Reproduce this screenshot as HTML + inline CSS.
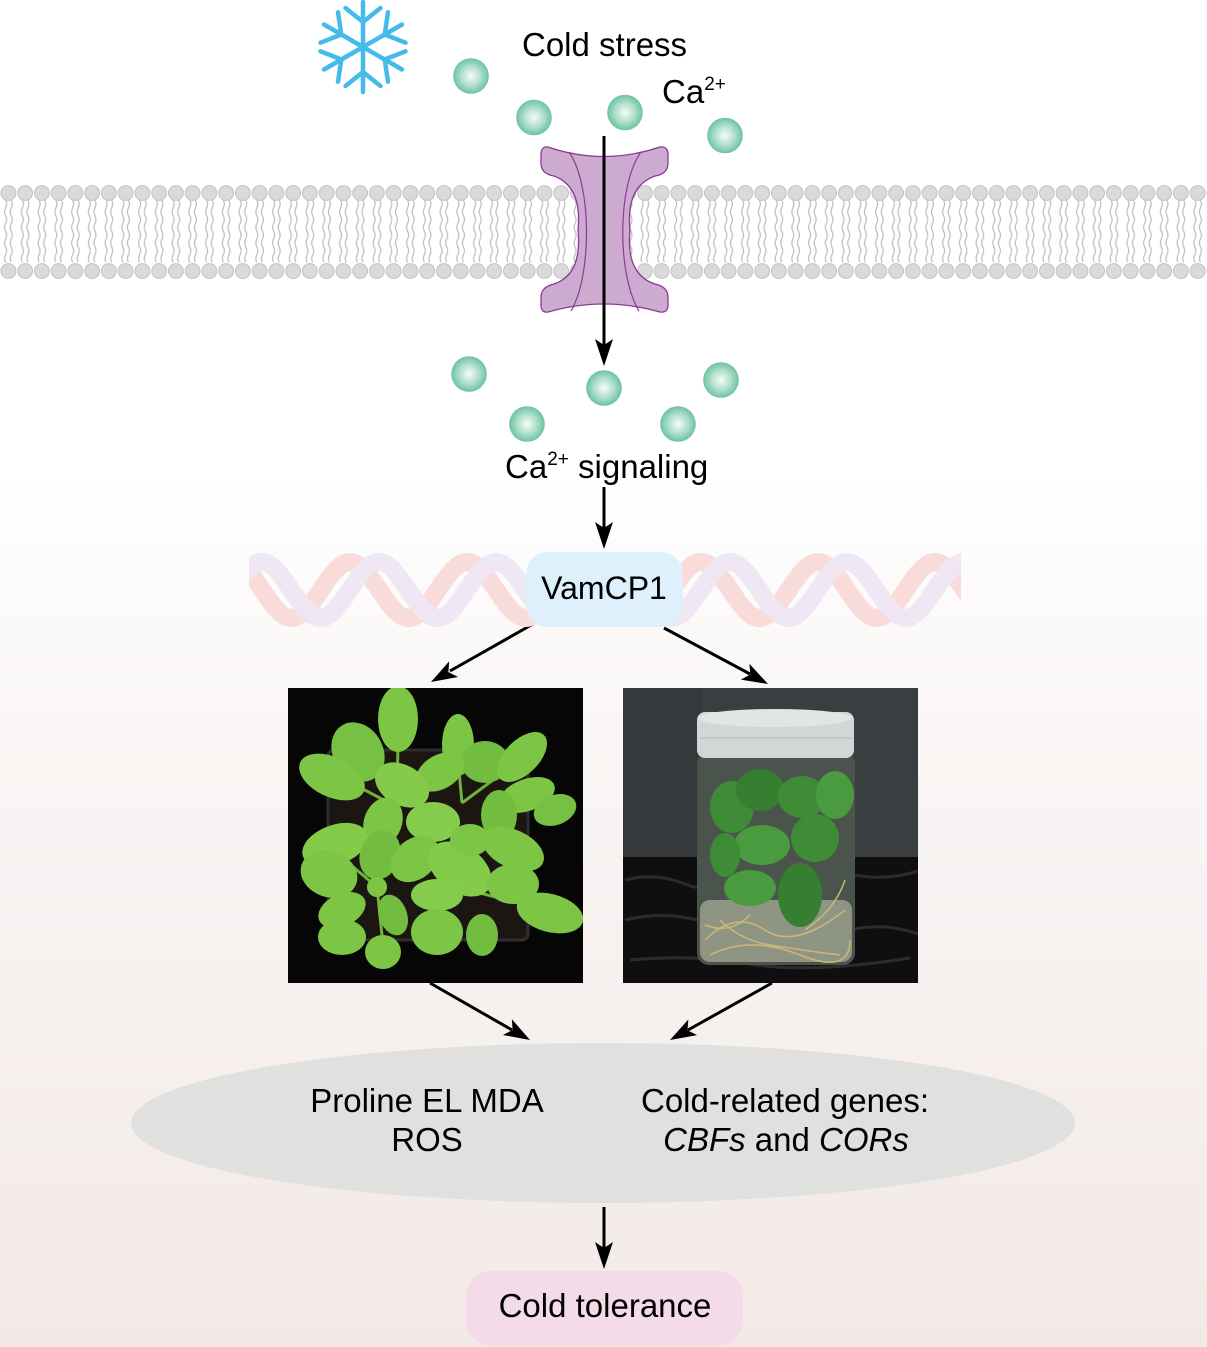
<!DOCTYPE html>
<html><head><meta charset="utf-8"><style>
html,body{margin:0;padding:0;background:#fff;}
svg{display:block;}
text{font-family:"Liberation Sans",Arial,sans-serif;fill:#000;}
</style></head><body>
<svg width="1207" height="1347" viewBox="0 0 1207 1347" xmlns="http://www.w3.org/2000/svg">
<defs>
<linearGradient id="bg" x1="0" y1="0" x2="0" y2="1347" gradientUnits="userSpaceOnUse">
<stop offset="0" stop-color="#ffffff"/><stop offset="0.35" stop-color="#ffffff"/><stop offset="0.52" stop-color="#faf7f6"/><stop offset="1" stop-color="#f2e9e7"/>
</linearGradient>
<radialGradient id="ball" cx="0.5" cy="0.5" r="0.5">
<stop offset="0" stop-color="#f6fcf9"/><stop offset="0.55" stop-color="#b0dfcc"/><stop offset="1" stop-color="#6cc2a2"/>
</radialGradient>
<pattern id="lip" x="0" y="0" width="16.75" height="1347" patternUnits="userSpaceOnUse">
<path d="M5.6,200 q2,3.9 0,7.8 t0,7.8 t0,7.8 t0,7.8 t0,7.8 t0,7.8 t0,7.8 t0,7.8" fill="none" stroke="#bcbcbc" stroke-width="1.2"/>
<path d="M11.2,200 q2,3.9 0,7.8 t0,7.8 t0,7.8 t0,7.8 t0,7.8 t0,7.8 t0,7.8 t0,7.8" fill="none" stroke="#bcbcbc" stroke-width="1.2"/>
<circle cx="8.4" cy="193" r="7.4" fill="#dadada" stroke="#c2c2c2" stroke-width="1"/>
<circle cx="8.4" cy="271" r="7.4" fill="#dadada" stroke="#c2c2c2" stroke-width="1"/>
</pattern>
<clipPath id="dnaclip"><rect x="249" y="540" width="712" height="100"/></clipPath>
<clipPath id="p1"><rect x="288" y="688" width="295" height="295"/></clipPath>
<clipPath id="p2"><rect x="623" y="688" width="295" height="295"/></clipPath>
</defs>

<rect x="0" y="0" width="1207" height="1347" fill="url(#bg)"/>

<!-- snowflake -->
<g stroke="#45bbec" stroke-width="4.5" stroke-linecap="round" fill="none">
<line x1="363" y1="47" x2="363" y2="2"/><line x1="363" y1="47" x2="363" y2="92"/>
<line x1="363" y1="47" x2="402" y2="24.5"/><line x1="363" y1="47" x2="402" y2="69.5"/>
<line x1="363" y1="47" x2="324" y2="69.5"/><line x1="363" y1="47" x2="324" y2="24.5"/>
<polyline points="345.5,8 363,22 380.5,8"/>
<polyline points="345.5,86 363,72 380.5,86"/>
<polyline points="405.5,42.7 384.7,34.5 388,12.3"/>
<polyline points="388,81.7 384.7,59.5 405.5,51.3"/>
<polyline points="320.5,51.3 341.3,59.5 338,81.7"/>
<polyline points="338,12.3 341.3,34.5 320.5,42.7"/>
</g>

<text x="522" y="56" font-size="33">Cold stress</text>
<text x="662" y="103" font-size="33">Ca<tspan font-size="19" dy="-13">2+</tspan></text>

<!-- membrane -->
<rect x="0" y="183" width="1207" height="97" fill="url(#lip)"/>

<!-- channel -->
<path d="M548,147 Q604,166 660,147 Q668,146 668,155 L668,163 Q668,174 655,176 C630,185 628,210 630,230 C628,250 630,276 655,284 Q668,287 668,297 L668,305 Q668,313 660,312 Q604,296 548,312 Q541,313 541,305 L541,297 Q541,287 554,284 C578,276 580,250 578,230 C580,210 578,185 554,176 Q541,174 541,163 L541,155 Q541,146 548,147 Z" fill="#cdaad0" stroke="#8a3c95" stroke-width="1.3"/>
<path d="M569,152 C592,185 592,275 571,311" fill="none" stroke="#8a3c95" stroke-width="1.2"/>
<path d="M641,152 C617,185 617,275 639,311" fill="none" stroke="#8a3c95" stroke-width="1.2"/>

<!-- Ca balls -->
<g fill="url(#ball)">
<circle cx="471" cy="76" r="17.8"/><circle cx="534" cy="117.5" r="17.8"/><circle cx="625" cy="112.5" r="17.8"/><circle cx="725" cy="135.5" r="17.8"/>
<circle cx="469" cy="374" r="17.8"/><circle cx="604" cy="388" r="17.8"/><circle cx="721" cy="380" r="17.8"/><circle cx="527" cy="424" r="17.8"/><circle cx="678" cy="424" r="17.8"/>
</g>

<!-- arrows -->
<g stroke="#000" stroke-width="3" fill="none">
<line x1="604" y1="136" x2="604" y2="350"/>
<line x1="604" y1="487" x2="604" y2="530"/>
<line x1="533" y1="624" x2="450" y2="671"/>
<line x1="664" y1="628" x2="750" y2="674"/>
<line x1="430" y1="983" x2="512" y2="1030"/>
<line x1="772" y1="983" x2="688" y2="1030"/>
<line x1="604" y1="1207" x2="604" y2="1250"/>
</g>
<g fill="#000">
<polygon points="604,366 595,339 604,345 613,339"/>
<polygon points="604,549 595,522 604,528 613,522"/>
<polygon points="431,682 458.05,676.98 448.39,672.11 449.15,661.32"/>
<polygon points="768,684 740.83,679.6 750.4,674.52 749.37,663.74"/>
<polygon points="530,1040 502.95,1034.94 512.62,1030.1 511.87,1019.3"/>
<polygon points="670,1040 697.1,1035.17 687.47,1030.24 688.32,1019.45"/>
<polygon points="604,1269 595,1242 604,1248 613,1242"/>
</g>

<text x="505" y="478" font-size="33">Ca<tspan font-size="19" dy="-13">2+</tspan><tspan dy="13"> signaling</tspan></text>

<!-- DNA -->
<g clip-path="url(#dnaclip)" fill="none" stroke-width="18">
<path stroke="#f9dbd9" d="M174.5,618 C195.5,618 212,562 233,562 S270.5,618 291.5,618 S329,562 350,562 S387.5,618 408.5,618 S446,562 467,562 S504.5,618 525.5,618 S563,562 584,562 S621.5,618 642.5,618 S680,562 701,562 S738.5,618 759.5,618 S797,562 818,562 S855.5,618 876.5,618 S914,562 935,562 S972.5,618 993.5,618"/>
<path stroke="#efe6f3" stroke-opacity="0.95" d="M145,562 C166,562 182.5,618 203.5,618 S241,562 262,562 S299.5,618 320.5,618 S358,562 379,562 S416.5,618 437.5,618 S475,562 496,562 S533.5,618 554.5,618 S592,562 613,562 S650.5,618 671.5,618 S709,562 730,562 S767.5,618 788.5,618 S826,562 847,562 S884.5,618 905.5,618 S943,562 964,562 S1001.5,618 1022.5,618"/>
</g>

<!-- VamCP1 -->
<rect x="526" y="552" width="157" height="75" rx="22" fill="#ddf0fc"/>
<text x="604" y="599" font-size="32" text-anchor="middle">VamCP1</text>

<!-- left photo -->
<g clip-path="url(#p1)">
<rect x="288" y="688" width="295" height="295" fill="#060606"/>
<rect x="328" y="750" width="200" height="190" rx="6" fill="#1b1612" stroke="#2e2e2e" stroke-width="3"/>
<g stroke="#6fb23c" stroke-width="3">
<line x1="397" y1="807" x2="398" y2="740"/><line x1="397" y1="807" x2="340" y2="777"/>
<line x1="462" y1="803" x2="458" y2="760"/><line x1="462" y1="803" x2="520" y2="760"/>
<line x1="377" y1="887" x2="333" y2="850"/><line x1="377" y1="887" x2="383" y2="945"/>
<line x1="480" y1="893" x2="545" y2="910"/><line x1="480" y1="893" x2="437" y2="893"/>
</g>
<g fill="#7cc545">
<ellipse cx="398" cy="719" rx="20" ry="33"/>
<ellipse cx="358" cy="752" rx="25" ry="31" transform="rotate(-30 358 752)" fill="#76c043"/>
<ellipse cx="332" cy="777" rx="35" ry="20" transform="rotate(25 332 777)"/>
<ellipse cx="458" cy="745" rx="16" ry="31"/>
<ellipse cx="485" cy="762" rx="24" ry="21" fill="#72bd40"/>
<ellipse cx="522" cy="757" rx="31" ry="17" transform="rotate(-45 522 757)"/>
<ellipse cx="527" cy="795" rx="29" ry="16" transform="rotate(-20 527 795)"/>
<ellipse cx="440" cy="772" rx="26" ry="17" transform="rotate(-30 440 772)"/>
<ellipse cx="402" cy="785" rx="29" ry="20" transform="rotate(30 402 785)" fill="#84cb4a"/>
<ellipse cx="499" cy="815" rx="18" ry="25" fill="#72bd40"/>
<ellipse cx="433" cy="822" rx="27" ry="20" fill="#86cc4c"/>
<ellipse cx="383" cy="822" rx="19" ry="25" transform="rotate(20 383 822)"/>
<ellipse cx="513" cy="849" rx="33" ry="19" transform="rotate(25 513 849)"/>
<ellipse cx="335" cy="845" rx="34" ry="20" transform="rotate(-20 335 845)" fill="#84cb4a"/>
<ellipse cx="329" cy="874" rx="29" ry="23" transform="rotate(20 329 874)"/>
<ellipse cx="380" cy="855" rx="20" ry="25" transform="rotate(20 380 855)" fill="#72bd40"/>
<ellipse cx="415" cy="859" rx="27" ry="20" transform="rotate(-40 415 859)"/>
<ellipse cx="460" cy="869" rx="35" ry="23" transform="rotate(35 460 869)" fill="#84cb4a"/>
<ellipse cx="513" cy="884" rx="26" ry="20"/>
<ellipse cx="550" cy="913" rx="34" ry="19" transform="rotate(15 550 913)"/>
<ellipse cx="437" cy="895" rx="26" ry="16" fill="#86cc4c"/>
<ellipse cx="437" cy="932" rx="26" ry="23"/>
<ellipse cx="482" cy="935" rx="16" ry="21" fill="#72bd40"/>
<ellipse cx="342" cy="910" rx="25" ry="16" transform="rotate(-25 342 910)"/>
<ellipse cx="342" cy="937" rx="24" ry="18"/>
<ellipse cx="383" cy="952" rx="18" ry="17"/>
<ellipse cx="393" cy="915" rx="14" ry="21" transform="rotate(-20 393 915)" fill="#72bd40"/>
<ellipse cx="555" cy="810" rx="22" ry="15" transform="rotate(-20 555 810)" fill="#76c043"/>
<ellipse cx="470" cy="840" rx="20" ry="16" fill="#7cc545"/>
<ellipse cx="377" cy="887" rx="10" ry="10"/>
</g>
</g>

<!-- right photo -->
<g clip-path="url(#p2)">
<rect x="623" y="688" width="295" height="295" fill="#3b3e40"/>
<rect x="623" y="688" width="80" height="170" fill="#36393b"/>
<rect x="623" y="857" width="295" height="126" fill="#0f0f10"/>
<g stroke="#2c2c2e" stroke-width="3" fill="none">
<path d="M625,880 q30,-8 60,4 t70,0"/><path d="M625,920 q40,-10 80,2"/><path d="M855,875 q30,6 63,-4"/><path d="M850,930 q35,-8 68,4"/><path d="M630,960 q60,-6 120,4 t160,-6"/>
</g>
<rect x="697" y="752" width="158" height="213" rx="12" fill="#4a544c"/>
<rect x="700" y="900" width="152" height="62" rx="10" fill="#8e9582"/>
<g fill="#3f8c36">
<ellipse cx="732" cy="807" rx="22" ry="26"/>
<ellipse cx="760" cy="790" rx="24" ry="21" fill="#367f30"/>
<ellipse cx="802" cy="797" rx="24" ry="21"/>
<ellipse cx="835" cy="795" rx="19" ry="24" fill="#4a9a3f"/>
<ellipse cx="762" cy="845" rx="28" ry="20" fill="#4a9a3f"/>
<ellipse cx="815" cy="838" rx="24" ry="24"/>
<ellipse cx="750" cy="888" rx="26" ry="18" fill="#4a9a3f"/>
<ellipse cx="800" cy="895" rx="22" ry="32" fill="#367f30"/>
<ellipse cx="725" cy="855" rx="15" ry="22"/>
</g>
<g stroke="#cdb77a" stroke-width="1.5" fill="none">
<path d="M705,940 q30,-30 60,-10 t80,-20"/><path d="M710,955 q40,-20 90,0 t50,-15"/><path d="M720,920 q20,20 50,25 t70,10"/><path d="M845,880 q-10,30 -40,50"/><path d="M705,925 q25,10 45,-10"/>
</g>
<rect x="697" y="712" width="157" height="46" rx="8" fill="#d3d6d6"/>
<ellipse cx="775" cy="718" rx="77" ry="9" fill="#e3e5e5"/>
<line x1="700" y1="738" x2="852" y2="738" stroke="#bfc3c3" stroke-width="1.5"/>
</g>

<!-- ellipse -->
<ellipse cx="603" cy="1123" rx="472" ry="80" fill="#e0e0df"/>
<text x="427" y="1112" font-size="33" text-anchor="middle">Proline EL MDA</text>
<text x="427" y="1151" font-size="33" text-anchor="middle">ROS</text>
<text x="785" y="1112" font-size="33" text-anchor="middle">Cold-related genes:</text>
<text x="786" y="1151" font-size="33" text-anchor="middle"><tspan font-style="italic">CBFs</tspan> and <tspan font-style="italic">CORs</tspan></text>

<!-- cold tolerance -->
<rect x="466" y="1271" width="277" height="75" rx="26" fill="#f3dbe8"/>
<text x="605" y="1317" font-size="33" text-anchor="middle">Cold tolerance</text>
</svg>
</body></html>
